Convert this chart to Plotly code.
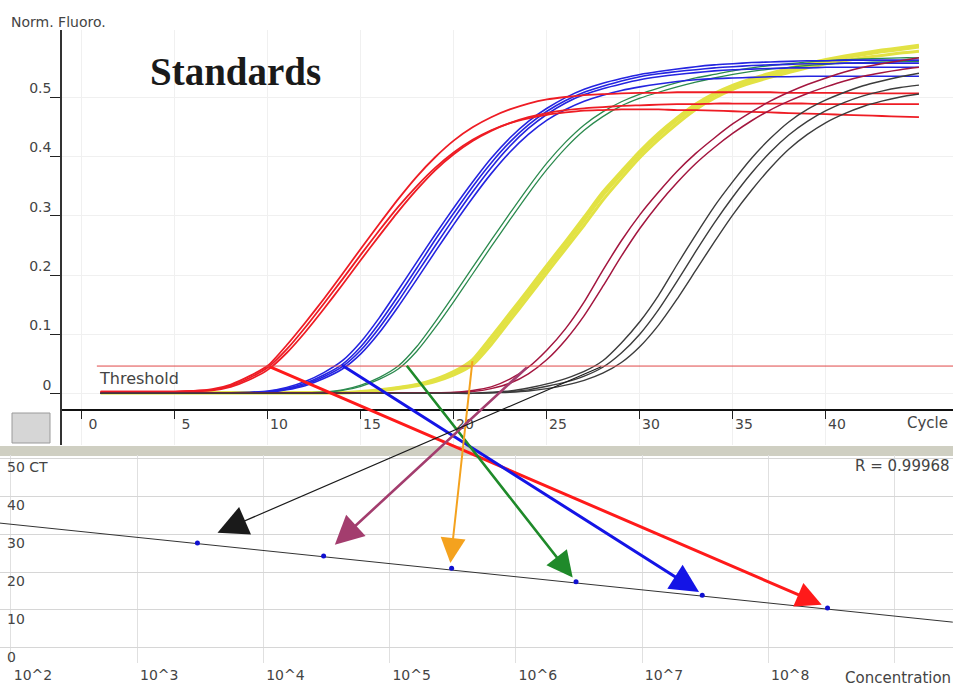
import math
import plotly.graph_objects as go

# ---------------- data ----------------
CYCLES = list(range(1, 46))
THRESHOLD = 0.047

RED_1 = [0.004,0.004,0.004,0.004,0.004,0.005,0.008,0.016,0.030,0.048,
         0.082,0.120,0.160,0.202,0.245,0.287,0.328,0.366,0.399,0.427,
         0.449,0.466,0.479,0.489,0.496,0.500,0.503,0.505,0.506,0.507,
         0.507,0.508,0.508,0.508,0.508,0.508,0.508,0.507,0.507,0.507,
         0.507,0.506,0.506,0.506,0.506]
RED_2 = [0.003,0.003,0.003,0.003,0.003,0.004,0.006,0.012,0.024,0.041,
         0.069,0.104,0.143,0.184,0.226,0.267,0.307,0.344,0.377,0.404,
         0.426,0.443,0.456,0.466,0.473,0.478,0.481,0.483,0.485,0.486,
         0.487,0.488,0.488,0.489,0.489,0.489,0.489,0.489,0.489,0.488,
         0.488,0.488,0.488,0.488,0.488]
RED_3 = [0.004,0.004,0.004,0.004,0.004,0.005,0.007,0.014,0.027,0.045,
         0.075,0.112,0.152,0.193,0.235,0.276,0.315,0.350,0.381,0.407,
         0.428,0.444,0.456,0.464,0.470,0.474,0.477,0.478,0.479,0.479,
         0.479,0.478,0.478,0.477,0.476,0.475,0.474,0.473,0.472,0.471,
         0.470,0.469,0.468,0.467,0.466]

BLUE_1 = [0.002,0.002,0.002,0.002,0.002,0.002,0.002,0.002,0.003,0.005,
          0.011,0.021,0.036,0.056,0.088,0.129,0.175,0.222,0.269,0.314,
          0.357,0.397,0.431,0.459,0.481,0.499,0.513,0.523,0.531,0.538,
          0.543,0.547,0.551,0.554,0.556,0.558,0.559,0.560,0.561,0.561,
          0.562,0.562,0.562,0.562,0.562]
BLUE_2 = [0.002,0.002,0.002,0.002,0.002,0.002,0.002,0.002,0.002,0.004,
          0.009,0.018,0.032,0.050,0.080,0.120,0.165,0.212,0.260,0.305,
          0.349,0.389,0.424,0.453,0.476,0.494,0.508,0.518,0.527,0.534,
          0.539,0.543,0.546,0.549,0.551,0.553,0.554,0.555,0.556,0.556,
          0.557,0.557,0.557,0.557,0.557]
BLUE_3 = [0.002,0.002,0.002,0.002,0.002,0.002,0.002,0.002,0.002,0.003,
          0.008,0.016,0.029,0.046,0.074,0.112,0.156,0.203,0.250,0.296,
          0.340,0.381,0.417,0.447,0.471,0.490,0.504,0.514,0.522,0.529,
          0.534,0.538,0.541,0.544,0.546,0.547,0.548,0.549,0.549,0.550,
          0.550,0.550,0.550,0.550,0.550]
BLUE_4 = [0.002,0.002,0.002,0.002,0.002,0.002,0.002,0.002,0.002,0.003,
          0.007,0.014,0.026,0.042,0.068,0.104,0.147,0.193,0.240,0.286,
          0.330,0.371,0.407,0.437,0.461,0.479,0.493,0.503,0.511,0.517,
          0.522,0.526,0.529,0.531,0.532,0.533,0.534,0.534,0.535,0.535,
          0.535,0.535,0.535,0.535,0.535]

GREEN_1 = [0.002,0.002,0.002,0.002,0.002,0.002,0.002,0.002,0.002,0.002,
           0.002,0.002,0.003,0.007,0.015,0.028,0.047,0.080,0.122,0.167,
           0.213,0.259,0.304,0.348,0.389,0.424,0.453,0.475,0.492,0.505,
           0.515,0.524,0.532,0.538,0.544,0.549,0.553,0.556,0.559,0.561,
           0.563,0.564,0.565,0.566,0.566]
GREEN_2 = [0.002,0.002,0.002,0.002,0.002,0.002,0.002,0.002,0.002,0.002,
           0.002,0.002,0.003,0.006,0.013,0.025,0.042,0.072,0.112,0.156,
           0.202,0.248,0.293,0.337,0.378,0.414,0.444,0.467,0.485,0.498,
           0.508,0.517,0.525,0.532,0.538,0.543,0.547,0.550,0.553,0.555,
           0.557,0.558,0.559,0.560,0.560]

YELLOW_1 = [0.002,0.002,0.002,0.002,0.002,0.002,0.002,0.002,0.002,0.002,
            0.002,0.002,0.002,0.002,0.003,0.006,0.010,0.015,0.023,0.035,
            0.054,0.090,0.130,0.170,0.211,0.251,0.292,0.334,0.370,0.404,
            0.434,0.461,0.484,0.503,0.517,0.528,0.537,0.545,0.553,0.560,
            0.566,0.571,0.576,0.580,0.584]
YELLOW_2 = [0.002,0.002,0.002,0.002,0.002,0.002,0.002,0.002,0.002,0.002,
            0.002,0.002,0.002,0.002,0.003,0.005,0.009,0.014,0.021,0.032,
            0.049,0.083,0.123,0.163,0.204,0.244,0.284,0.326,0.363,0.398,
            0.428,0.455,0.479,0.498,0.513,0.524,0.533,0.541,0.549,0.556,
            0.561,0.566,0.570,0.574,0.577]
YELLOW_3 = [0.002,0.002,0.002,0.002,0.002,0.002,0.002,0.002,0.002,0.002,
            0.002,0.002,0.002,0.002,0.004,0.007,0.011,0.016,0.025,0.038,
            0.058,0.096,0.136,0.176,0.217,0.257,0.298,0.340,0.375,0.409,
            0.439,0.465,0.488,0.506,0.520,0.531,0.540,0.548,0.556,0.563,
            0.569,0.574,0.579,0.583,0.587]

MAROON_1 = [0.002,0.002,0.002,0.002,0.002,0.002,0.002,0.002,0.002,0.002,
            0.002,0.002,0.002,0.002,0.002,0.002,0.002,0.002,0.002,0.003,
            0.006,0.012,0.025,0.045,0.074,0.110,0.155,0.208,0.258,0.302,
            0.340,0.375,0.405,0.431,0.455,0.475,0.493,0.508,0.521,0.532,
            0.542,0.550,0.556,0.561,0.566]
MAROON_2 = [0.002,0.002,0.002,0.002,0.002,0.002,0.002,0.002,0.002,0.002,
            0.002,0.002,0.002,0.002,0.002,0.002,0.002,0.002,0.002,0.002,
            0.004,0.009,0.018,0.034,0.058,0.091,0.132,0.181,0.232,0.279,
            0.320,0.356,0.388,0.415,0.439,0.460,0.478,0.493,0.506,0.517,
            0.527,0.535,0.541,0.546,0.550]

BLACK_1 = [0.001,0.001,0.001,0.001,0.001,0.001,0.001,0.001,0.001,0.001,
           0.001,0.001,0.001,0.001,0.001,0.001,0.001,0.001,0.001,0.001,
           0.001,0.003,0.005,0.010,0.017,0.026,0.038,0.056,0.086,0.122,
           0.166,0.218,0.268,0.316,0.358,0.397,0.430,0.458,0.479,0.495,
           0.508,0.519,0.527,0.534,0.540]
BLACK_2 = [0.001,0.001,0.001,0.001,0.001,0.001,0.001,0.001,0.001,0.001,
           0.001,0.001,0.001,0.001,0.001,0.001,0.001,0.001,0.001,0.001,
           0.001,0.002,0.004,0.007,0.013,0.020,0.030,0.045,0.069,0.101,
           0.142,0.190,0.240,0.288,0.332,0.372,0.407,0.436,0.459,0.477,
           0.491,0.502,0.510,0.516,0.520]
BLACK_3 = [0.001,0.001,0.001,0.001,0.001,0.001,0.001,0.001,0.001,0.001,
           0.001,0.001,0.001,0.001,0.001,0.001,0.001,0.001,0.001,0.001,
           0.001,0.002,0.003,0.005,0.009,0.015,0.023,0.035,0.053,0.080,
           0.116,0.160,0.208,0.256,0.302,0.343,0.380,0.412,0.437,0.457,
           0.472,0.484,0.493,0.500,0.505]

TOP_Y_TICKS = [0, 0.1, 0.2, 0.3, 0.4, 0.5]
TOP_Y_LABELS = ["0", "0.1", "0.2", "0.3", "0.4", "0.5"]
TOP_X_TICKS = [0, 5, 10, 15, 20, 25, 30, 35, 40]
TOP_X_LABELS = ["0", "5", "10", "15", "20", "25", "30", "35", "40"]

# standard curve
STD_CONC = [3.0e3, 3.0e4, 3.1e5, 3.0e6, 3.0e7, 2.95e8]
STD_CT = [27.6, 24.2, 21.0, 17.4, 13.9, 10.5]
FIT_CONC = [80, 2.9e9]
FIT_CT = [32.9, 6.8]
BOT_X_TICKS = [1e2, 1e3, 1e4, 1e5, 1e6, 1e7, 1e8, 1e9]
BOT_X_LABELS = ["10^2", "10^3", "10^4", "10^5", "10^6", "10^7", "10^8", ""]
BOT_Y_TICKS = [0, 10, 20, 30, 40, 50]
BOT_Y_LABELS = ["0", "10", "20", "30", "40", "50 CT"]

# arrows: from threshold crossing (top) to standard curve (bottom)
ARROW_COLORS = ["#ff1a1a", "#1414e6", "#1f8a2a", "#f4a21e", "#a33d6e", "#1a1a1a"]
ARROW_FROM_CYCLE = [10.0, 13.9, 17.4, 21.0, 24.0, 28.0]
ARROW_FROM_FLUOR = [0.047, 0.050, 0.050, 0.058, 0.047, 0.047]
ARROW_TO_CONC = [2.9e8, 3.1e7, 3.0e6, 3.0e5, 3.4e4, 3.9e3]
ARROW_TO_CT = [10.8, 13.9, 17.4, 21.0, 26.1, 29.7]
ARROW_WIDTH = [3.0, 3.0, 2.6, 2.0, 2.6, 1.2]
ARROW_SIZE = [1.7, 1.9, 2.0, 2.5, 2.2, 5.0]

# ---------------- layout geometry ----------------
W, H = 953, 689
TOP_XDOM = [62 / W, 1.0]
TOP_XRANGE = [-1.075, 46.83]
TOP_YDOM = [(H - 445) / H, (H - 30) / H]
TOP_YRANGE = [-0.0859, 0.6128]
TOP_XPOS = (H - 410) / H
BOT_XDOM = [0.0, 1.0]
BOT_XRANGE = [1.913, 9.464]
BOT_YDOM = [(H - 663) / H, (H - 455) / H]
BOT_YRANGE = [-3.95, 50.79]


def top_to_paper(c, f):
    fx = TOP_XDOM[0] + (c - TOP_XRANGE[0]) / (TOP_XRANGE[1] - TOP_XRANGE[0]) * (TOP_XDOM[1] - TOP_XDOM[0])
    fy = TOP_YDOM[0] + (f - TOP_YRANGE[0]) / (TOP_YRANGE[1] - TOP_YRANGE[0]) * (TOP_YDOM[1] - TOP_YDOM[0])
    return fx, fy


def bot_to_paper(conc, ct):
    lc = math.log10(conc)
    fx = BOT_XDOM[0] + (lc - BOT_XRANGE[0]) / (BOT_XRANGE[1] - BOT_XRANGE[0]) * (BOT_XDOM[1] - BOT_XDOM[0])
    fy = BOT_YDOM[0] + (ct - BOT_YRANGE[0]) / (BOT_YRANGE[1] - BOT_YRANGE[0]) * (BOT_YDOM[1] - BOT_YDOM[0])
    return fx, fy


fig = go.Figure()

FONT = "DejaVu Sans"

groups = [
    ([YELLOW_2, YELLOW_1, YELLOW_3], "#e2e244", 3.0),
    ([GREEN_2, GREEN_1], "#2b8a4e", 1.3),
    ([BLUE_4, BLUE_3, BLUE_2, BLUE_1], "#2424e0", 1.6),
    ([RED_3, RED_2, RED_1], "#ee1c24", 1.8),
    ([MAROON_2, MAROON_1], "#a3163f", 1.5),
    ([BLACK_3, BLACK_2, BLACK_1], "#3c3c3c", 1.4),
]
for curves, color, width in groups:
    for ys in curves:
        fig.add_trace(go.Scatter(x=CYCLES, y=ys, mode="lines",
                                 line=dict(color=color, width=width, shape="spline", smoothing=0.6),
                                 xaxis="x", yaxis="y", showlegend=False, hoverinfo="skip"))

# threshold line
fig.add_trace(go.Scatter(x=[0.8, 47], y=[THRESHOLD, THRESHOLD], mode="lines",
                         line=dict(color="#e04848", width=1), xaxis="x", yaxis="y",
                         showlegend=False, hoverinfo="skip"))

# standard curve
fig.add_trace(go.Scatter(x=FIT_CONC, y=FIT_CT, mode="lines", line=dict(color="#333333", width=1),
                         xaxis="x2", yaxis="y2", showlegend=False, hoverinfo="skip"))
fig.add_trace(go.Scatter(x=STD_CONC, y=STD_CT, mode="markers", marker=dict(color="#1010d0", size=5),
                         xaxis="x2", yaxis="y2", showlegend=False, hoverinfo="skip"))

# empty overlay subplot for arrows spanning both panels
fig.add_trace(go.Scatter(x=[], y=[], xaxis="x3", yaxis="y3", showlegend=False))

annotations = []
for i in range(len(ARROW_COLORS)):
    tx, ty = top_to_paper(ARROW_FROM_CYCLE[i], ARROW_FROM_FLUOR[i])
    hx, hy = bot_to_paper(ARROW_TO_CONC[i], ARROW_TO_CT[i])
    annotations.append(dict(x=hx, y=hy, ax=tx, ay=ty, xref="x3", yref="y3", axref="x3", ayref="y3",
                            text="", showarrow=True, arrowhead=2, arrowsize=ARROW_SIZE[i],
                            arrowwidth=ARROW_WIDTH[i], arrowcolor=ARROW_COLORS[i],
                            standoff=1.3 * ARROW_SIZE[i] * ARROW_WIDTH[i] * 0.8))

annotations += [
    dict(text="Norm. Fluoro.", xref="paper", yref="paper", x=9 / W, y=(H - 22) / H,
         xanchor="left", yanchor="middle", showarrow=False, font=dict(family=FONT, size=14, color="#444")),
    dict(text="<b>Standards</b>", xref="paper", yref="paper", x=148 / W, y=(H - 71) / H,
         xanchor="left", yanchor="middle", showarrow=False,
         font=dict(family="Liberation Serif", size=39, color="#1a1a1a")),
    dict(text="Threshold", xref="x", yref="y", x=0.8, y=0.026, xanchor="left", yanchor="middle",
         showarrow=False, font=dict(family=FONT, size=16, color="#444")),
    dict(text="Cycle", xref="paper", yref="paper", x=905 / W, y=(H - 423) / H,
         xanchor="left", yanchor="middle", showarrow=False, font=dict(family=FONT, size=15, color="#444")),
    dict(text="R = 0.99968", xref="paper", yref="paper", x=853 / W, y=(H - 466) / H,
         xanchor="left", yanchor="middle", showarrow=False, font=dict(family=FONT, size=15, color="#444")),
    dict(text="Concentration", xref="paper", yref="paper", x=843 / W, y=(H - 678) / H,
         xanchor="left", yanchor="middle", showarrow=False, font=dict(family=FONT, size=15, color="#444")),
]

shapes = [
    dict(type="rect", xref="paper", yref="paper", x0=0, x1=1, y0=(H - 456) / H, y1=(H - 446) / H,
         fillcolor="#cfcfc2", line=dict(width=0), layer="below"),
    dict(type="rect", xref="paper", yref="paper", x0=12 / W, x1=50 / W, y0=(H - 443) / H, y1=(H - 413) / H,
         fillcolor="#d6d6d6", line=dict(color="#9a9a9a", width=1), layer="below"),
]

tickfont = dict(family=FONT, size=14, color="#444")

fig.update_layout(
    width=W, height=H, margin=dict(l=0, r=0, t=0, b=0, autoexpand=False),
    paper_bgcolor="white", plot_bgcolor="rgba(0,0,0,0)",
    showlegend=False,
    annotations=annotations, shapes=shapes,
    xaxis=dict(domain=TOP_XDOM, range=TOP_XRANGE, anchor="free", position=TOP_XPOS, automargin=False,
               showline=True, linecolor="#111", linewidth=2, ticks="outside", ticklen=8,
               tickcolor="#222", tickvals=TOP_X_TICKS, ticktext=TOP_X_LABELS,
               ticklabelshift=11, ticklabelstandoff=-7, tickfont=tickfont, ticklabeloverflow="allow",
               showgrid=True, gridcolor="#f0f0f0", zeroline=False),
    yaxis=dict(domain=TOP_YDOM, range=TOP_YRANGE, anchor="x", automargin=False,
               showline=True, linecolor="#333", linewidth=1.5, ticks="outside", ticklen=10,
               tickcolor="#222", tickvals=TOP_Y_TICKS, ticktext=TOP_Y_LABELS,
               ticklabelshift=-9, ticklabelstandoff=-4, tickfont=tickfont, ticklabeloverflow="allow",
               showgrid=True, gridcolor="#f0f0f0", zeroline=False),
    xaxis2=dict(domain=BOT_XDOM, type="log", range=BOT_XRANGE, anchor="y2", automargin=False,
                showline=False, tickvals=BOT_X_TICKS, ticktext=BOT_X_LABELS,
                ticklabelshift=22, ticklabelstandoff=2, tickfont=tickfont, ticklabeloverflow="allow",
                showgrid=True, gridcolor="#e0e0e0", zeroline=False),
    yaxis2=dict(domain=BOT_YDOM, range=BOT_YRANGE, anchor="x2", showline=False, automargin=False,
                tickvals=BOT_Y_TICKS, ticktext=BOT_Y_LABELS, ticklabelposition="inside",
                ticklabelshift=9, ticklabelstandoff=4, tickfont=tickfont, ticklabeloverflow="allow",
                showgrid=True, gridcolor="#d6d6d6", zeroline=False),
    xaxis3=dict(domain=[0, 1], range=[0, 1], anchor="y3", visible=False, fixedrange=True, automargin=False),
    yaxis3=dict(domain=[0, 1], range=[0, 1], anchor="x3", visible=False, fixedrange=True, automargin=False),
)

fig.write_html("out.html", config={"displayModeBar": False},
               post_script="document.body.style.margin='0';document.body.style.padding='0';")
